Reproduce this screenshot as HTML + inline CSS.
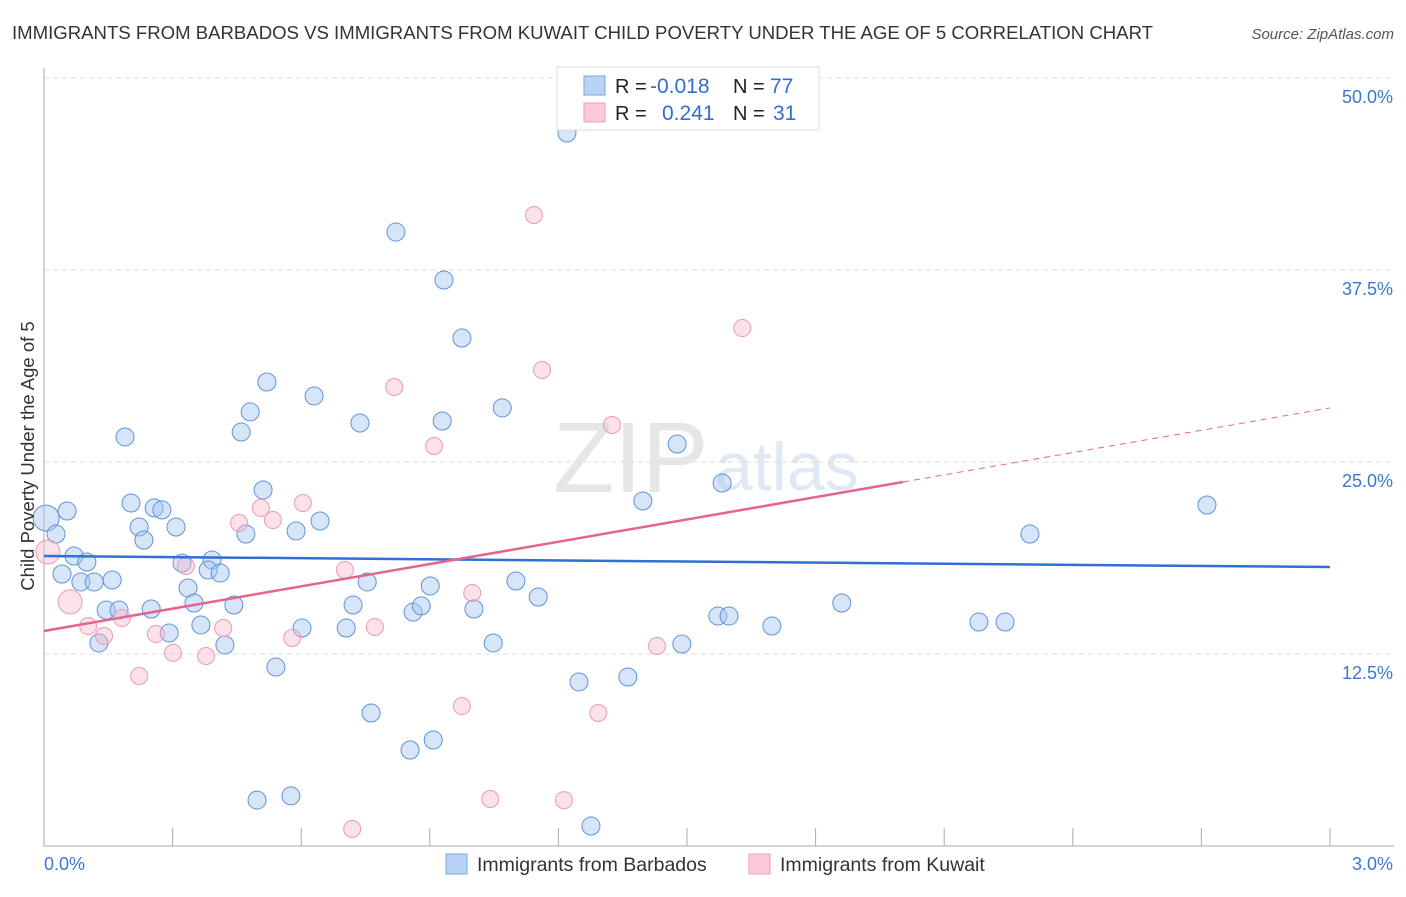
<!DOCTYPE html>
<html><head><meta charset="utf-8"><style>
body{margin:0;background:#fff;font-family:"Liberation Sans",sans-serif;}
svg text{font-family:"Liberation Sans",sans-serif;}
</style></head><body>
<svg id="chart" width="1406" height="892">
<text x="12" y="39" font-size="18.5" fill="#333" textLength="1141" lengthAdjust="spacingAndGlyphs">IMMIGRANTS FROM BARBADOS VS IMMIGRANTS FROM KUWAIT CHILD POVERTY UNDER THE AGE OF 5 CORRELATION CHART</text>
<text x="1394" y="39" font-size="15" fill="#555" font-style="italic" text-anchor="end">Source: ZipAtlas.com</text>
<text x="553" y="492" font-size="100" font-family="Liberation Serif" fill="#e6e6e6">ZIP</text>
<text x="715" y="490" font-size="68" fill="#dfe8f5">atlas</text>
<g id="grid"></g><g id="axes"></g><g id="pts"></g><g id="lines"></g>
<text transform="translate(34,456) rotate(-90)" font-size="18.5" fill="#333" text-anchor="middle">Child Poverty Under the Age of 5</text>
<g>
<rect x="557" y="67" width="262" height="63" fill="#fff" stroke="#ddd"/>
<rect x="584" y="76" width="21" height="19" fill="#b9d3f5" stroke="#7aa6e0"/>
<rect x="584" y="103" width="21" height="19" fill="#fbc9d8" stroke="#ef9fb8"/>
<text x="615" y="93" font-size="20" fill="#222">R = </text><text x="650" y="93" font-size="21" fill="#2f6fcf">-0.018</text>
<text x="733" y="93" font-size="20" fill="#222">N = </text><text x="770" y="93" font-size="21" fill="#2f6fcf">77</text>
<text x="615" y="120" font-size="20" fill="#222">R = </text><text x="662" y="120" font-size="21" fill="#2f6fcf">0.241</text>
<text x="733" y="120" font-size="20" fill="#222">N = </text><text x="773" y="120" font-size="21" fill="#2f6fcf">31</text>
</g>
<g>
<rect x="446" y="854" width="21" height="20" fill="#b9d3f5" stroke="#7aa6e0"/>
<text x="477" y="871" font-size="19.5" fill="#333">Immigrants from Barbados</text>
<rect x="749" y="854" width="21" height="20" fill="#fbc9d8" stroke="#ef9fb8"/>
<text x="780" y="871" font-size="19.5" fill="#333">Immigrants from Kuwait</text>
</g>
</svg>
<script>
const blueX=[0.005,0.054,0.028,0.070,0.100,0.042,0.086,0.117,0.159,0.145,0.175,0.128,0.189,0.203,0.222,0.233,0.257,0.275,0.308,0.250,0.292,0.322,0.336,0.350,0.366,0.392,0.383,0.411,0.443,0.422,0.471,0.460,0.481,0.520,0.511,0.588,0.644,0.541,0.602,0.630,0.737,0.721,0.705,0.754,0.763,0.821,0.854,0.861,0.880,0.901,0.908,0.929,0.933,0.975,1.003,1.048,1.069,1.101,1.153,1.220,1.248,1.276,1.362,1.397,1.477,1.488,1.582,1.572,1.598,1.698,1.861,2.181,2.242,2.300,2.713,0.497,0.576];
const blueY=[21.35,21.81,20.31,18.88,18.49,17.71,17.19,17.19,17.32,15.36,15.36,13.22,26.63,22.33,20.77,19.92,22.01,21.88,20.77,15.43,13.87,18.42,16.80,15.82,14.39,18.62,17.97,17.77,15.69,13.09,20.31,26.95,28.26,30.21,23.18,20.51,21.16,11.65,14.19,29.30,27.54,15.69,14.19,17.19,8.66,39.97,6.25,15.23,15.63,16.93,6.90,27.67,36.85,33.07,15.43,13.22,28.52,17.25,16.21,46.42,10.68,1.30,11.00,22.46,26.17,13.15,23.63,14.97,14.97,14.32,15.82,14.58,14.58,20.31,22.20,2.99,3.26];
const pinkX=[0.009,0.061,0.103,0.140,0.182,0.222,0.261,0.301,0.331,0.378,0.418,0.455,0.506,0.534,0.579,0.604,0.702,0.719,0.772,0.817,0.910,0.975,0.999,1.041,1.143,1.162,1.213,1.293,1.325,1.430,1.629];
const pinkY=[19.14,15.89,14.32,13.67,14.84,11.07,13.80,12.57,18.23,12.37,14.19,21.03,22.01,21.22,13.54,22.33,17.97,1.11,14.26,29.88,26.04,9.11,16.47,3.06,41.08,30.99,2.99,8.66,27.41,13.02,33.72];
const blueTrend=[18.88,18.16];
const pinkTrend=[14.0,28.52];
const pinkSolidEnd=2.004;
const yTicks=[12.5,25.0,37.5,50.0];
const xTickVals=[0.3,0.6,0.9,1.2,1.5,1.8,2.1,2.4,2.7,3.0];
const NS="http://www.w3.org/2000/svg";
const sx=v=>44+v/3*1286, sy=v=>846-v*15.36;
function mk(tag,attrs,parent){const e=document.createElementNS(NS,tag);for(const k in attrs)e.setAttribute(k,attrs[k]);document.getElementById(parent).appendChild(e);return e;}
yTicks.forEach(t=>{
 const l=mk('line',{x1:44,x2:1394,y1:sy(t),y2:sy(t),stroke:'#ddd','stroke-dasharray':'5,4'},'grid');
 
 
 const tx=mk('text',{x:1393,y:sy(t)+25,'font-size':18,fill:'#3a78d4','text-anchor':'end'},'grid');tx.textContent=t.toFixed(1)+'%';
 
 
});
let a=mk('line',{x1:44,x2:44,y1:68,y2:846,stroke:'#aaa'},'axes');


a=mk('line',{x1:44,x2:1394,y1:846,y2:846,stroke:'#aaa'},'axes');


xTickVals.forEach(v=>{const t=mk('line',{x1:sx(v),x2:sx(v),y1:828,y2:846,stroke:'#aaa'},'axes');
 
 });
let t0=mk('text',{x:44,y:870,'font-size':18,fill:'#3a78d4'},'axes');t0.textContent='0.0%';


t0=mk('text',{x:1393,y:870,'font-size':18,fill:'#3a78d4','text-anchor':'end'},'axes');t0.textContent='3.0%';


blueX.forEach((x,i)=>{const c=mk('circle',{cx:sx(x),cy:sy(blueY[i]),r:i<1?13:9,fill:'rgba(165,198,240,0.45)',stroke:'#5f93d8','stroke-width':1},'pts');
 
 });
pinkX.forEach((x,i)=>{const c=mk('circle',{cx:sx(x),cy:sy(pinkY[i]),r:i<2?12:8.5,fill:'rgba(246,180,202,0.4)',stroke:'#ec9ab4','stroke-width':1},'pts');
 
 });
let ln=mk('line',{x1:sx(0),y1:sy(blueTrend[0]),x2:sx(3),y2:sy(blueTrend[1]),stroke:'#2f6fd6','stroke-width':2.5},'lines');


const pAt=x=>pinkTrend[0]+(pinkTrend[1]-pinkTrend[0])*x/3;
ln=mk('line',{x1:sx(0),y1:sy(pAt(0)),x2:sx(pinkSolidEnd),y2:sy(pAt(pinkSolidEnd)),stroke:'#e4648f','stroke-width':2.5},'lines');


ln=mk('line',{x1:sx(pinkSolidEnd),y1:sy(pAt(pinkSolidEnd)),x2:sx(3),y2:sy(pAt(3)),stroke:'#e4648f','stroke-width':1,'stroke-dasharray':'6,5'},'lines');


</script>
</body></html>
